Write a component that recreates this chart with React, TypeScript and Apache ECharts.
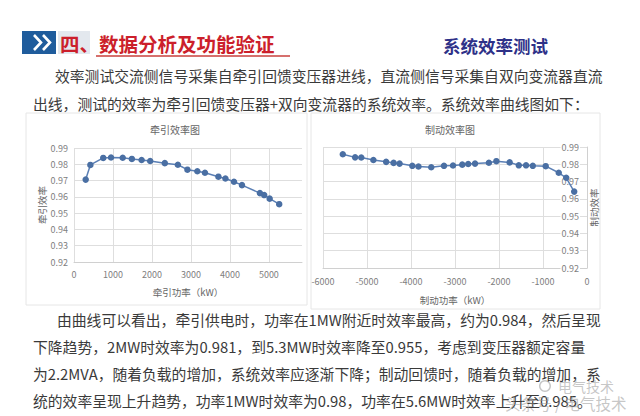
import React, { useEffect, useRef } from 'react';
import * as echarts from 'echarts';

const FONT = '"Noto Sans CJK SC", "Noto Sans", sans-serif';

// 牵引效率图 (traction)
const tractionPower = [300, 420, 750, 950, 1250, 1485, 1735, 1955, 2330, 2665, 2910, 3165, 3360, 3705, 3885, 4105, 4310, 4770, 4880, 5020, 5265];
const tractionEff = [0.9706, 0.9796, 0.9839, 0.9842, 0.9840, 0.9833, 0.9826, 0.9820, 0.9807, 0.9797, 0.9767, 0.9757, 0.9748, 0.9724, 0.9713, 0.9693, 0.9672, 0.9623, 0.9611, 0.9589, 0.9555];

// 制动效率图 (braking)
const brakingPower = [-5550, -5270, -5130, -4855, -4565, -4395, -4260, -3970, -3830, -3540, -3250, -3045, -2835, -2700, -2545, -2230, -2060, -1758, -1550, -1385, -1232, -938, -642, -472, -291];
const brakingEff = [0.9858, 0.9840, 0.9839, 0.9825, 0.9814, 0.9808, 0.9804, 0.9791, 0.9787, 0.9783, 0.9791, 0.9793, 0.9798, 0.9802, 0.9804, 0.9809, 0.9818, 0.9811, 0.9794, 0.9794, 0.9791, 0.9789, 0.9751, 0.9722, 0.9642];

const headerTitle = '四、数据分析及功能验证';
const headerRight = '系统效率测试';
const introLines = [
  '效率测试交流侧信号采集自牵引回馈变压器进线，直流侧信号采集自双向变流器直流',
  '出线，测试的效率为牵引回馈变压器+双向变流器的系统效率。系统效率曲线图如下：',
];
const bottomLines = [
  '由曲线可以看出，牵引供电时，功率在1MW附近时效率最高，约为0.984，然后呈现',
  '下降趋势，2MW时效率为0.981，到5.3MW时效率降至0.955，考虑到变压器额定容量',
  '为2.2MVA，随着负载的增加，系统效率应逐渐下降；制动回馈时，随着负载的增加，系',
  '统的效率呈现上升趋势，功率1MW时效率为0.98，功率在5.6MW时效率上升至0.985。',
];

const LINE_COLOR = '#5a7fb5';
const MARK_COLOR = '#4a6fa3';
const GRID_COLOR = '#dedede';
const LABEL_COLOR = '#808080';
const NAME_COLOR = '#666666';

export default function App() {
  const ref = useRef<HTMLDivElement>(null);
  useEffect(() => {
    const chart = echarts.init(ref.current!, null, { renderer: 'svg' });
    const textStyle = { fontFamily: FONT };
    const bodyText = (s: string, x: number, y: number) => ({
      type: 'text',
      x,
      y,
      style: { text: s, fill: '#3a3a3a', font: `14.8px ${FONT}`, verticalAlign: 'middle' },
    });
    const option: any = {
      animation: false,
      backgroundColor: '#ffffff',
      textStyle,
      title: [
        {
          text: '牵引效率图', left: 175, top: 124, textAlign: 'center', padding: 0,
          textStyle: { fontSize: 10, fontWeight: 'normal', color: NAME_COLOR, fontFamily: FONT },
        },
        {
          text: '制动效率图', left: 450, top: 124, textAlign: 'center', padding: 0,
          textStyle: { fontSize: 10, fontWeight: 'normal', color: NAME_COLOR, fontFamily: FONT },
        },
      ],
      grid: [
        { left: 74, top: 148, width: 228, height: 114 },
        { left: 323, top: 147, width: 264, height: 121 },
      ],
      xAxis: [
        {
          gridIndex: 0, type: 'value', min: 0, max: 5850, interval: 1000,
          name: '牵引功率（kW）', nameLocation: 'middle', nameGap: 25,
          nameTextStyle: { fontSize: 9.5, color: NAME_COLOR, fontFamily: FONT },
          axisLine: { show: true, lineStyle: { color: '#d0d0d0' } },
          axisTick: { show: false },
          axisLabel: {
            fontSize: 9, color: LABEL_COLOR, margin: 8, fontFamily: FONT, showMaxLabel: false,
            formatter: (v: number) => (v % 1000 === 0 ? String(v) : ''),
          },
          splitLine: { show: true, showMaxLine: false, lineStyle: { color: GRID_COLOR } },
        },
        {
          gridIndex: 1, type: 'value', min: -6000, max: 0, interval: 1000,
          name: '制动功率（kW）', nameLocation: 'middle', nameGap: 27,
          nameTextStyle: { fontSize: 9.5, color: NAME_COLOR, fontFamily: FONT },
          axisLine: { show: true, onZero: false, lineStyle: { color: '#d0d0d0' } },
          axisTick: { show: false },
          axisLabel: { fontSize: 9, color: LABEL_COLOR, margin: 9, fontFamily: FONT, formatter: (v: number) => String(v) },
          splitLine: { show: true, lineStyle: { color: GRID_COLOR } },
        },
      ],
      yAxis: [
        {
          gridIndex: 0, type: 'value', min: 0.92, max: 0.99, interval: 0.01,
          name: '牵引效率', nameLocation: 'middle', nameGap: 27, nameRotate: 90,
          nameTextStyle: { fontSize: 9.5, color: NAME_COLOR, fontFamily: FONT },
          axisLine: { show: false },
          axisTick: { show: false },
          axisLabel: { fontSize: 9, color: LABEL_COLOR, margin: 6, fontFamily: FONT, formatter: (v: number) => v.toFixed(2) },
          splitLine: { show: true, lineStyle: { color: GRID_COLOR } },
        },
        {
          gridIndex: 1, type: 'value', position: 'right', min: 0.92, max: 0.99, interval: 0.01,
          name: '制动效率', nameLocation: 'middle', nameGap: 2, nameRotate: 90,
          nameTextStyle: { fontSize: 9.5, color: NAME_COLOR, fontFamily: FONT },
          axisLine: { show: true, onZero: false, lineStyle: { color: '#d0d0d0' } },
          axisTick: { show: false },
          axisLabel: {
            inside: true, fontSize: 9, color: LABEL_COLOR, margin: 7, fontFamily: FONT,
            backgroundColor: '#ffffff', padding: [0, 1],
            formatter: (v: number) => v.toFixed(2),
          },
          splitLine: { show: true, lineStyle: { color: GRID_COLOR } },
        },
      ],
      series: [
        {
          type: 'line', xAxisIndex: 0, yAxisIndex: 0,
          data: tractionPower.map((p, i) => [p, tractionEff[i]]),
          symbol: 'circle', symbolSize: 6.5,
          lineStyle: { color: LINE_COLOR, width: 1.5 },
          itemStyle: { color: MARK_COLOR },
        },
        {
          type: 'line', xAxisIndex: 1, yAxisIndex: 1,
          data: brakingPower.map((p, i) => [p, brakingEff[i]]),
          symbol: 'circle', symbolSize: 6.5,
          lineStyle: { color: LINE_COLOR, width: 1.5 },
          itemStyle: { color: MARK_COLOR },
        },
      ],
      graphic: [
        { type: 'rect', z: -1, shape: { x: 26, y: 113, width: 281, height: 192 }, style: { fill: 'none', stroke: '#e6e6e6', lineWidth: 1 } },
        { type: 'rect', z: -1, shape: { x: 311, y: 113, width: 289, height: 196 }, style: { fill: 'none', stroke: '#e6e6e6', lineWidth: 1 } },
        { type: 'rect', shape: { x: 22, y: 31, width: 34, height: 23 }, style: { fill: '#1f5c9c' } },
        { type: 'polyline', shape: { points: [[34, 35], [41, 42.5], [34, 50]] }, style: { stroke: '#ffffff', lineWidth: 2.6, fill: 'none' } },
        { type: 'polyline', shape: { points: [[43, 35], [50, 42.5], [43, 50]] }, style: { stroke: '#ffffff', lineWidth: 2.6, fill: 'none' } },
        { type: 'rect', shape: { x: 58, y: 31, width: 32, height: 23 }, style: { fill: '#e3e8ee' } },
        { type: 'line', shape: { x1: 96, y1: 56, x2: 290, y2: 56 }, style: { stroke: '#c9413c', lineWidth: 1.5 } },
        {
          type: 'text', x: 60, y: 43,
          style: { text: headerTitle, fill: '#cc1f2b', font: `bold 19.5px ${FONT}`, verticalAlign: 'middle' },
        },
        {
          type: 'text', x: 443, y: 45,
          style: { text: headerRight, fill: '#2e3188', font: `bold 17.5px ${FONT}`, verticalAlign: 'middle' },
        },
        bodyText(introLines[0], 55, 75),
        bodyText(introLines[1], 33, 103),
        bodyText(bottomLines[0], 57, 319),
        bodyText(bottomLines[1], 33, 346),
        bodyText(bottomLines[2], 33, 373),
        bodyText(bottomLines[3], 33, 400),
        { type: 'ring', shape: { cx: 545, cy: 386, r: 6, r0: 4.5 }, style: { fill: 'rgba(140,140,140,0.5)' } },
        {
          type: 'text', x: 558, y: 386,
          style: { text: '电气技术', fill: 'rgba(150,150,150,0.55)', font: `14px ${FONT}`, verticalAlign: 'middle' },
        },
        {
          type: 'text', x: 505, y: 403,
          style: { text: '头条号 / 电气技术', fill: 'rgba(150,150,150,0.55)', font: `15.5px ${FONT}`, verticalAlign: 'middle' },
        },
      ],
    };
    chart.setOption(option);
    return () => chart.dispose();
  }, []);
  return (
    <div
      ref={ref}
      style={{ position: 'absolute', left: 0, top: 0, width: 640, height: 416, background: '#ffffff' }}
    />
  );
}
